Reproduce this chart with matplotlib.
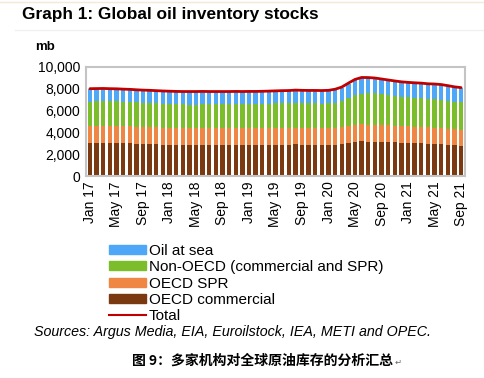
import numpy as np
import pandas as pd
import matplotlib
matplotlib.use("Agg")
import matplotlib.pyplot as plt
from matplotlib.patches import Patch
from matplotlib.lines import Line2D

plt.rcParams["font.family"] = ["Liberation Sans", "DejaVu Sans"]

# Monthly stocks, Jan 2017 .. Sep 2021 (million barrels)
months = pd.date_range("2017-01-01", "2021-09-01", freq="MS")

oecd_commercial = [
    3000, 3010, 3020, 3020, 3010, 3000, 2990, 2970, 2950, 2930, 2900, 2870,
    2850, 2830, 2820, 2810, 2810, 2820, 2820, 2830, 2830, 2840, 2850, 2840,
    2820, 2810, 2820, 2840, 2860, 2880, 2880, 2890, 2880, 2870, 2860, 2850,
    2850, 2870, 2920, 3060, 3150, 3170, 3160, 3160, 3140, 3110, 3080, 3060,
    3030, 3010, 2990, 2960, 2940, 2900, 2860, 2820, 2790,
]
oecd_spr = [
    1600, 1600, 1600, 1590, 1590, 1580, 1580, 1570, 1560, 1560, 1560, 1550,
    1550, 1550, 1550, 1550, 1550, 1550, 1550, 1550, 1550, 1550, 1550, 1550,
    1550, 1550, 1550, 1540, 1540, 1540, 1540, 1540, 1530, 1530, 1530, 1530,
    1530, 1530, 1540, 1550, 1550, 1560, 1560, 1560, 1550, 1550, 1540, 1530,
    1520, 1510, 1510, 1500, 1500, 1490, 1480, 1470, 1460,
]
non_oecd = [
    2220, 2230, 2240, 2240, 2250, 2250, 2240, 2230, 2220, 2210, 2200, 2200,
    2200, 2190, 2190, 2190, 2190, 2200, 2200, 2200, 2210, 2220, 2230, 2230,
    2230, 2240, 2250, 2270, 2280, 2290, 2300, 2310, 2300, 2280, 2270, 2260,
    2280, 2340, 2420, 2550, 2700, 2800, 2850, 2850, 2800, 2760, 2730, 2700,
    2680, 2660, 2640, 2620, 2610, 2590, 2560, 2530, 2500,
]
oil_at_sea = [
    1130, 1120, 1110, 1100, 1090, 1080, 1080, 1080, 1090, 1100, 1110, 1120,
    1120, 1130, 1130, 1140, 1140, 1130, 1120, 1110, 1100, 1080, 1070, 1070,
    1100, 1100, 1090, 1080, 1070, 1060, 1060, 1080, 1090, 1110, 1130, 1140,
    1140, 1160, 1220, 1300, 1400, 1450, 1400, 1360, 1350, 1330, 1310, 1290,
    1300, 1310, 1320, 1320, 1330, 1350, 1330, 1300, 1300,
]

labels = [m.strftime("%b %y") for m in months]

C_SEA = "#4fa8f7"
C_NON = "#7cbd2c"
C_SPR = "#ef8644"
C_COM = "#7b3911"
C_TOT = "#c00000"

fig = plt.figure(figsize=(4.85, 3.78), dpi=100)
ax = fig.add_axes([86 / 485, 1 - 176 / 378, (465 - 86) / 485, (176 - 67) / 378])

x = np.arange(len(months))
com = np.array(oecd_commercial)
spr = np.array(oecd_spr)
non = np.array(non_oecd)
sea = np.array(oil_at_sea)
total = com + spr + non + sea

w = 0.66
ax.bar(x, com, w, color=C_COM, linewidth=0)
ax.bar(x, spr, w, bottom=com, color=C_SPR, linewidth=0)
ax.bar(x, non, w, bottom=com + spr, color=C_NON, linewidth=0)
ax.bar(x, sea, w, bottom=com + spr + non, color=C_SEA, linewidth=0)
ax.plot(x, total + 60, color=C_TOT, lw=2.0, solid_capstyle="round")

ax.set_xlim(-0.6, len(x) - 0.4)
ax.set_ylim(0, 10000)
ax.set_yticks(range(0, 10001, 2000))
ax.set_yticklabels([f"{v:,}" for v in range(0, 10001, 2000)], fontsize=10)
ax.set_xticks(x[::4])
ax.set_xticklabels(labels[::4], rotation=90, fontsize=10)
ax.tick_params(length=0, pad=4)
for s in ax.spines.values():
    s.set_color("#c4c4c4")
    s.set_linewidth(1.5)

# faint page rules around the title
fig.add_artist(Line2D([0, 1], [1 - 2 / 378] * 2, color="#f3ead8", lw=1))
fig.add_artist(Line2D([0.03, 1], [1 - 30 / 378] * 2, color="#f0f0f0", lw=1))

fig.text(22 / 485, 1 - 14 / 378, "Graph 1: Global oil inventory stocks",
         fontsize=12.4, fontweight="bold", va="center", ha="left")
fig.text(35 / 485, 1 - 47 / 378, "mb", fontsize=9.5, fontweight="bold",
         va="center", ha="left")

handles = [
    Patch(color=C_SEA),
    Patch(color=C_NON),
    Patch(color=C_SPR),
    Patch(color=C_COM),
    Line2D([], [], color=C_TOT, lw=1.5),
]
names = ["Oil at sea", "Non-OECD (commercial and SPR)", "OECD SPR",
         "OECD commercial", "Total"]
fig.legend(handles, names, loc="upper left", bbox_to_anchor=(109 / 485, 1 - 244 / 378),
           frameon=False, fontsize=11, handlelength=2.4, handleheight=0.55,
           handletextpad=0.2, labelspacing=0.15, borderaxespad=0, borderpad=0)

fig.text(34 / 485, 1 - 332 / 378,
         "Sources: Argus Media, EIA, Euroilstock, IEA, METI and OPEC.",
         fontsize=10.3, style="italic", va="center", ha="left")

fig.text(132 / 485, 1 - 361 / 378, "图 9：多家机构对全球原油库存的分析汇总",
         fontsize=10, fontweight="bold", va="center", ha="left",
         family=["Noto Sans CJK SC", "DejaVu Sans"])
fig.text(395 / 485, 1 - 362 / 378, "\u21b5", fontsize=6, color="#666666",
         va="center", ha="left", family=["DejaVu Sans"])

fig.savefig("out.png", dpi=100)
